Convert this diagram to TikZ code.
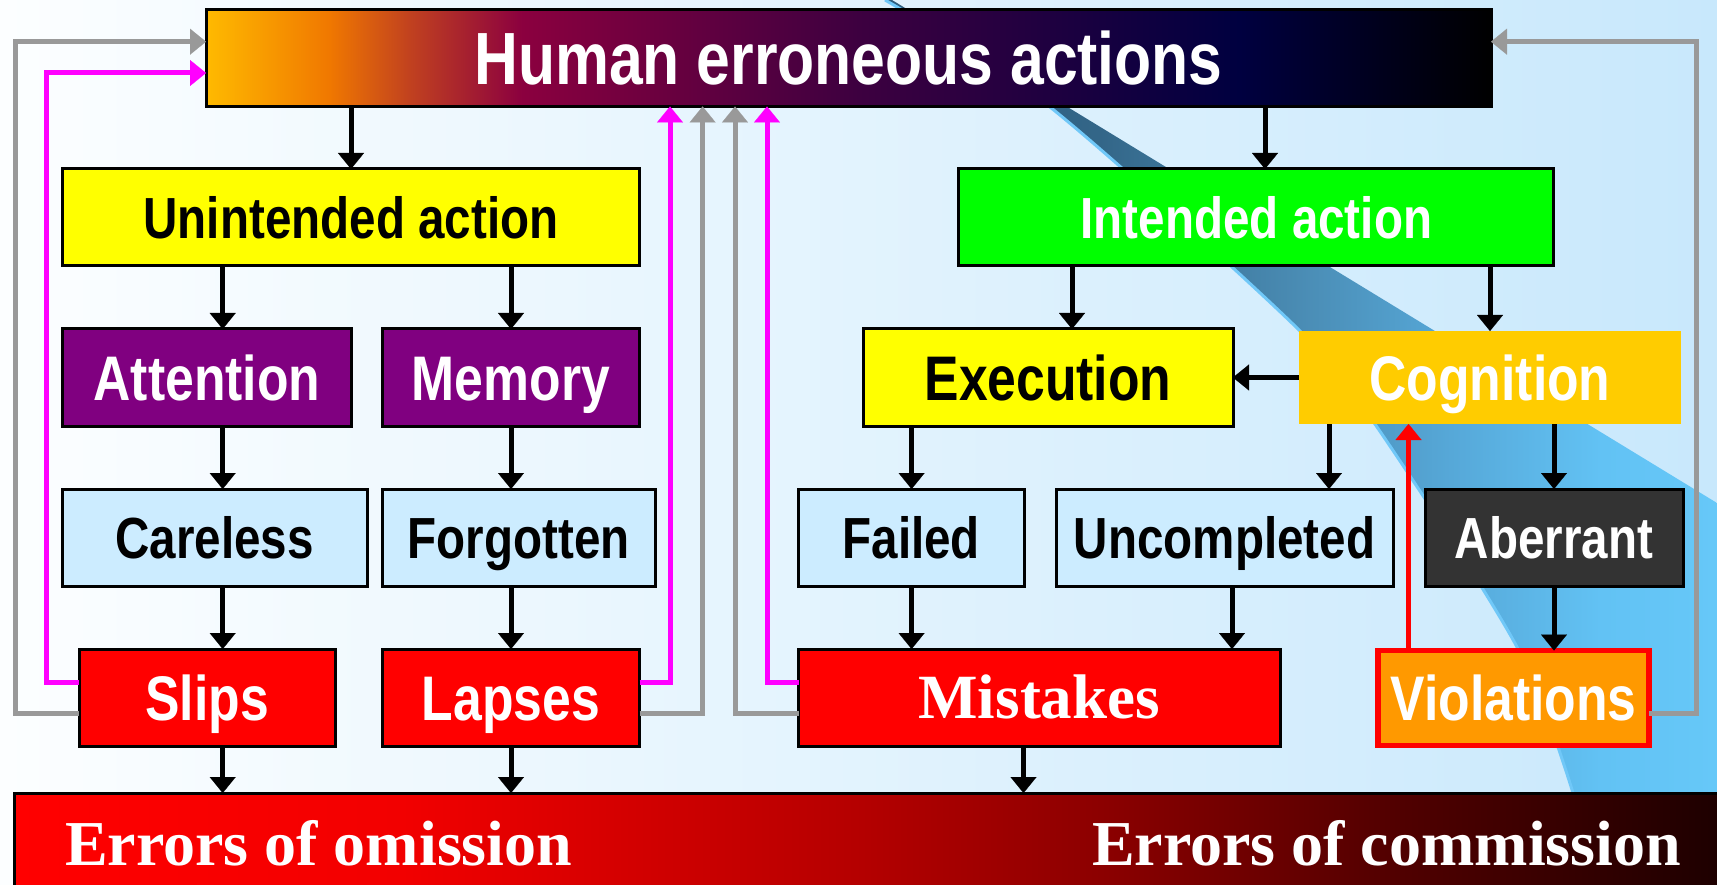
\documentclass[tikz,border=0pt]{standalone}
\usepackage{fontspec}
\usetikzlibrary{arrows.meta}
\newfontfamily\nb{Liberation Sans}[FakeStretch=0.82]
\newfontfamily\tb{Liberation Serif}

% palette
\definecolor{bgL}{HTML}{FCFEFF}
\definecolor{bgR}{HTML}{C8E8FC}
\definecolor{tA}{HTML}{FFBA00}
\definecolor{tB}{HTML}{F07800}
\definecolor{tC}{HTML}{C04020}
\definecolor{tD}{HTML}{8B003F}
\definecolor{tE}{HTML}{3D0040}
\definecolor{tF}{HTML}{000040}
\definecolor{tG}{HTML}{000000}
\definecolor{eA}{HTML}{FF0000}
\definecolor{eB}{HTML}{F20000}
\definecolor{eC}{HTML}{B40000}
\definecolor{eD}{HTML}{8C0000}
\definecolor{eE}{HTML}{500000}
\definecolor{eF}{HTML}{1E0000}
\definecolor{wA}{HTML}{2D5C7C}
\definecolor{wB}{HTML}{336688}
\definecolor{wC}{HTML}{4A8CB4}
\definecolor{wD}{HTML}{56A8D8}
\definecolor{wE}{HTML}{62C2F4}
\definecolor{wF}{HTML}{66C8F8}
\definecolor{ribbonedge}{HTML}{70C8F8}
\definecolor{yel}{HTML}{FFFF00}
\definecolor{grn}{HTML}{00FF00}
\definecolor{purp}{HTML}{800080}
\definecolor{pale}{HTML}{CCECFF}
\definecolor{gold}{HTML}{FFCC00}
\definecolor{dark}{HTML}{333333}
\definecolor{redbox}{HTML}{FF0000}
\definecolor{orng}{HTML}{FF9900}
\definecolor{fbgray}{HTML}{999999}
\definecolor{fbmag}{HTML}{FF00FF}

% horizontal colour ramps (path box maps onto 25bp..75bp)
\pgfdeclarehorizontalshading{topgrad}{100bp}{color(0bp)=(tA); color(25bp)=(tA);
  color(29.8bp)=(tB); color(33bp)=(tC); color(37.3bp)=(tD); color(50.4bp)=(tE);
  color(65.2bp)=(tF); color(75bp)=(tG); color(100bp)=(tG)}
\pgfdeclarehorizontalshading{errgrad}{100bp}{color(0bp)=(eA); color(25bp)=(eA);
  color(36.2bp)=(eB); color(49.5bp)=(eC); color(56.4bp)=(eD); color(65.1bp)=(eE);
  color(74.2bp)=(eF); color(100bp)=(eF)}
\pgfdeclarehorizontalshading{ribbongrad}{100bp}{color(0bp)=(wA); color(25bp)=(wA);
  color(37.9bp)=(wB); color(49.9bp)=(wC); color(59bp)=(wD); color(68bp)=(wE);
  color(75bp)=(wF); color(100bp)=(wF)}

\tikzset{
  every node/.style={inner sep=0pt, outer sep=0pt},
  box/.style={rectangle, draw=black, line width=3pt, minimum height=97pt},
  fa/.style={font=\nb\bfseries\fontsize{58pt}{60pt}\selectfont, text height=41.5pt, text depth=0pt},
  fb/.style={font=\nb\bfseries\fontsize{63pt}{66pt}\selectfont, text height=45pt, text depth=0pt},
  fc/.style={font=\nb\bfseries\fontsize{74pt}{78pt}\selectfont, text height=53pt, text depth=0pt},
  fs/.style={font=\tb\bfseries\fontsize{63pt}{66pt}\selectfont, text height=42pt, text depth=0pt},
  fe/.style={font=\tb\bfseries\fontsize{64pt}{66pt}\selectfont},
  tipshape/.style={-{Triangle[length=16pt,width=26pt,line width=0.1pt]}},
  arr/.style={tipshape, line width=5pt, draw=black},
  redarr/.style={tipshape, line width=4.8pt, draw=redbox},
  fbg/.style={tipshape, line width=5pt, draw=fbgray},
  fbm/.style={tipshape, line width=5pt, draw=fbmag},
}

\begin{document}
\begin{tikzpicture}[x=1pt, y=-1pt]
\useasboundingbox (0,0) rectangle (1717,885);
\clip (0,0) rectangle (1717,885);

% backdrop and diagonal ribbon
\shade[left color=bgL, right color=bgR] (0,0) rectangle (1717,885);
\shade[shading=ribbongrad]
  plot[smooth] coordinates {(885,0) (1050,107) (1297,328) (1377,427) (1517,647) (1573,793)}
  -- (1717,793) -- (1717,503) -- (892,0) -- cycle;
\draw[ribbonedge, line width=3pt]
  plot[smooth] coordinates {(885,0) (1050,107) (1297,328) (1377,427) (1517,647) (1573,793)};

% boxes
\node[box, shade, shading=topgrad, minimum width=1285pt, text=white, fc] (top) at (848.5,58) {Human erroneous actions};

\node[box, fill=yel, minimum width=577pt, fa] (unint) at (351,217.5) {Unintended action};
\node[box, fill=grn, minimum width=595pt, text=white, fa] (intend) at (1256.4,217.5) {Intended action};

\node[box, fill=purp, minimum width=289pt, text=white, fb] (att) at (207,377.5) {Attention};
\node[box, fill=purp, minimum width=257.6pt, text=white, fb] (mem) at (510.8,377.5) {Memory};
\node[box, fill=yel, minimum width=370pt, fb] (exec) at (1048,377.5) {Execution};
\node[rectangle, fill=gold, minimum width=382pt, minimum height=93pt, text=white, fb] (cog) at (1490,377.5) {Cognition};

\node[box, fill=pale, minimum width=304.5pt, fa] (care) at (214.75,537.5) {Careless};
\node[box, fill=pale, minimum width=273.5pt, fa] (forg) at (518.75,537.5) {Forgotten};
\node[box, fill=pale, minimum width=225.5pt, fa] (fail) at (911.25,537.5) {Failed};
\node[box, fill=pale, minimum width=337pt, fa] (uncomp) at (1224.5,537.5) {Uncompleted};
\node[box, fill=dark, minimum width=258pt, text=white, fa] (aber) at (1554,537.5) {Aberrant};

\node[box, fill=redbox, minimum width=256pt, text=white, fb] (slips) at (207,697.5) {Slips};
\node[box, fill=redbox, minimum width=257.6pt, text=white, fb] (lapses) at (510.8,697.5) {Lapses};
\node[box, fill=redbox, minimum width=481.5pt, text=white, fs] (mist) at (1039.25,697.5) {Mistakes};
\node[rectangle, fill=orng, draw=redbox, line width=5.5pt, minimum width=271pt, minimum height=95pt, text=white, fb] (viol) at (1513.5,698) {Violations};

\node[rectangle, draw=black, line width=3pt, shade, shading=errgrad, anchor=north west,
      minimum width=1730pt, minimum height=110pt] (errs) at (14,793) {};
\node[fe, text=white, anchor=base west] (omit) at (65,865) {Errors of omission};
\node[fe, text=white, anchor=base east] (commit) at (1681,865) {Errors of commission};

% columns of the downward links
\coordinate (cTU) at (351,0);
\coordinate (cTI) at (1265,0);
\coordinate (cA) at (222.7,0);
\coordinate (cB) at (511,0);
\coordinate (cIE) at (1072,0);
\coordinate (cIC) at (1490,0);
\coordinate (cF) at (911.6,0);
\coordinate (cCU) at (1329,0);
\coordinate (cUM) at (1232,0);
\coordinate (cAb) at (1554,0);
\coordinate (cM) at (1023.5,0);
\coordinate (cR) at (1408.5,0);

% downward links
\draw[arr] (top.south -| cTU) -- (unint.north -| cTU);
\draw[arr] (top.south -| cTI) -- (intend.north -| cTI);
\draw[arr] (unint.south -| cA) -- (att.north -| cA);
\draw[arr] (unint.south -| cB) -- (mem.north -| cB);
\draw[arr] (att.south -| cA) -- (care.north -| cA);
\draw[arr] (mem.south -| cB) -- (forg.north -| cB);
\draw[arr] (care.south -| cA) -- (slips.north -| cA);
\draw[arr] (forg.south -| cB) -- (lapses.north -| cB);
\draw[arr] (slips.south -| cA) -- (errs.north -| cA);
\draw[arr] (lapses.south -| cB) -- (errs.north -| cB);
\draw[arr] (intend.south -| cIE) -- (exec.north -| cIE);
\draw[arr] (intend.south -| cIC) -- (cog.north -| cIC);
\draw[arr] (cog.west) -- (exec.east);
\draw[arr] (exec.south -| cF) -- (fail.north -| cF);
\draw[arr] (cog.south -| cCU) -- (uncomp.north -| cCU);
\draw[arr] (cog.south -| cAb) -- (aber.north -| cAb);
\draw[arr] (fail.south -| cF) -- (mist.north -| cF);
\draw[arr] (uncomp.south -| cUM) -- (mist.north -| cUM);
\draw[arr] (aber.south -| cAb) -- (viol.north -| cAb);
\draw[arr] (mist.south -| cM) -- (errs.north -| cM);
\draw[redarr] (viol.north -| cR) -- (cog.south -| cR);

% feedback routes back to the top box
\coordinate (sg1) at (15,713);   \coordinate (sg2) at (15,41.7);
\coordinate (sm1) at (46.6,682); \coordinate (sm2) at (46.6,73);
\coordinate (lm1) at (670,682);
\coordinate (lg1) at (702.6,713);
\coordinate (mg1) at (735,713);
\coordinate (mm1) at (767,682);
\coordinate (vg1) at (1696,713); \coordinate (vg2) at (1696,41.7);

\draw[fbg] (slips.west |- sg1) -- (sg1) -- (sg2) -- (top.west |- sg2);
\draw[fbm] (slips.west |- sm1) -- (sm1) -- (sm2) -- (top.west |- sm2);
\draw[fbm] (lapses.east |- lm1) -- (lm1) -- (top.south -| lm1);
\draw[fbg] (lapses.east |- lg1) -- (lg1) -- (top.south -| lg1);
\draw[fbg] (mist.west |- mg1) -- (mg1) -- (top.south -| mg1);
\draw[fbm] (mist.west |- mm1) -- (mm1) -- (top.south -| mm1);
\draw[fbg] (viol.east |- vg1) -- (vg1) -- (vg2) -- (top.east |- vg2);
\end{tikzpicture}
\end{document}
